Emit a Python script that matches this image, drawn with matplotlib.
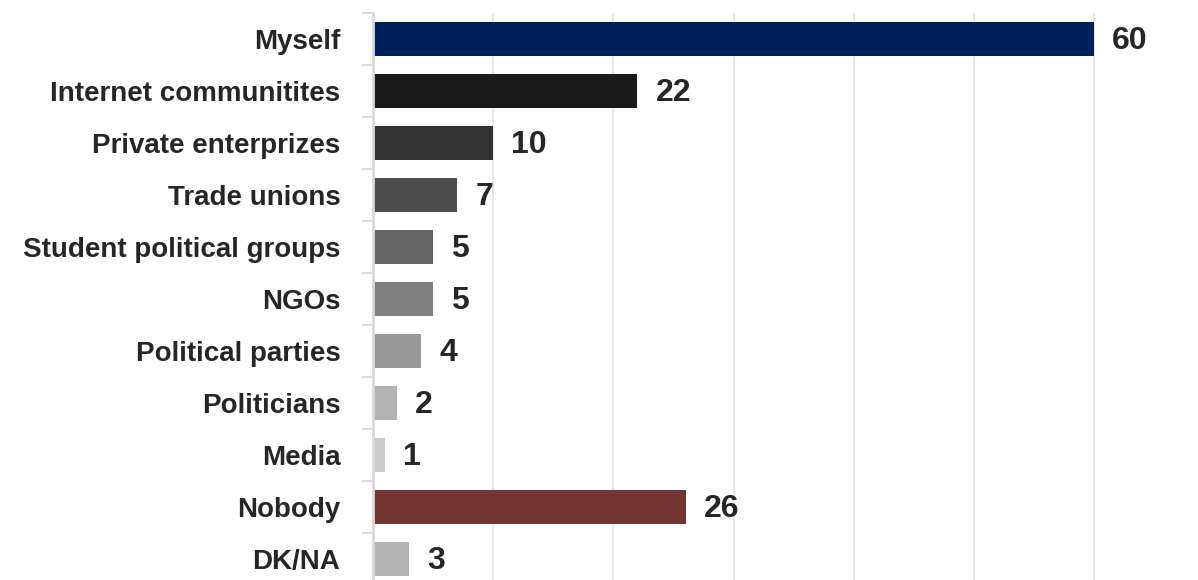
"""Horizontal bar chart: who can change things."""

import matplotlib.pyplot as plt
from matplotlib import font_manager

CATEGORIES = [
    "Myself",
    "Internet communitites",
    "Private enterprizes",
    "Trade unions",
    "Student political groups",
    "NGOs",
    "Political parties",
    "Politicians",
    "Media",
    "Nobody",
    "DK/NA",
]
VALUES = [60, 22, 10, 7, 5, 5, 4, 2, 1, 26, 3]
COLORS = [
    "#00205b", "#1a1a1a", "#333333", "#4d4d4d", "#666666", "#808080",
    "#999999", "#b3b3b3", "#cccccc", "#723532", "#b3b3b3",
]

names = {f.name for f in font_manager.fontManager.ttflist}
FONT = "Liberation Sans Narrow" if "Liberation Sans Narrow" in names else "Liberation Sans"


def main() -> None:
    fig = plt.figure(figsize=(11.98, 5.80), dpi=100)
    ax = fig.add_axes([373 / 1198, -5 / 580, (1198 - 373) / 1198, 572 / 580])

    ypos = list(range(len(CATEGORIES)))
    ax.barh(ypos, VALUES, height=0.67, color=COLORS, zorder=2)
    ax.set_ylim(len(CATEGORIES) - 0.5, -0.5)
    ax.set_xlim(0, (1198 - 373) / 12.02)

    ax.set_xticks([10, 20, 30, 40, 50, 60])
    ax.tick_params(axis="x", length=0, labelbottom=False)
    ax.grid(axis="x", color="#e3e3e3", linewidth=1.5, zorder=3, alpha=0.8)

    ax.set_yticks([y - 0.5 for y in range(len(CATEGORIES) + 1)])
    ax.set_yticklabels([])
    ax.set_yticks(ypos, minor=True)
    ax.set_yticklabels(CATEGORIES, minor=True, fontsize=20, fontweight="bold",
                       family=FONT, color="#262626")
    ax.tick_params(axis="y", which="major", length=8, width=1.5, color="#d9d9d9")
    ax.tick_params(axis="y", which="minor", length=0, pad=23.5)

    for side in ("top", "right", "bottom"):
        ax.spines[side].set_visible(False)
    ax.spines["left"].set_color("#d9d9d9")
    ax.spines["left"].set_linewidth(2)

    for y, v in zip(ypos, VALUES):
        ax.annotate(str(v), (v, y), xytext=(13, -1.5), textcoords="offset points",
                    va="center", ha="left", fontsize=23, fontweight="bold",
                    family=FONT, color="#262626")

    fig.savefig("out.png", dpi=100)


if __name__ == "__main__":
    main()
